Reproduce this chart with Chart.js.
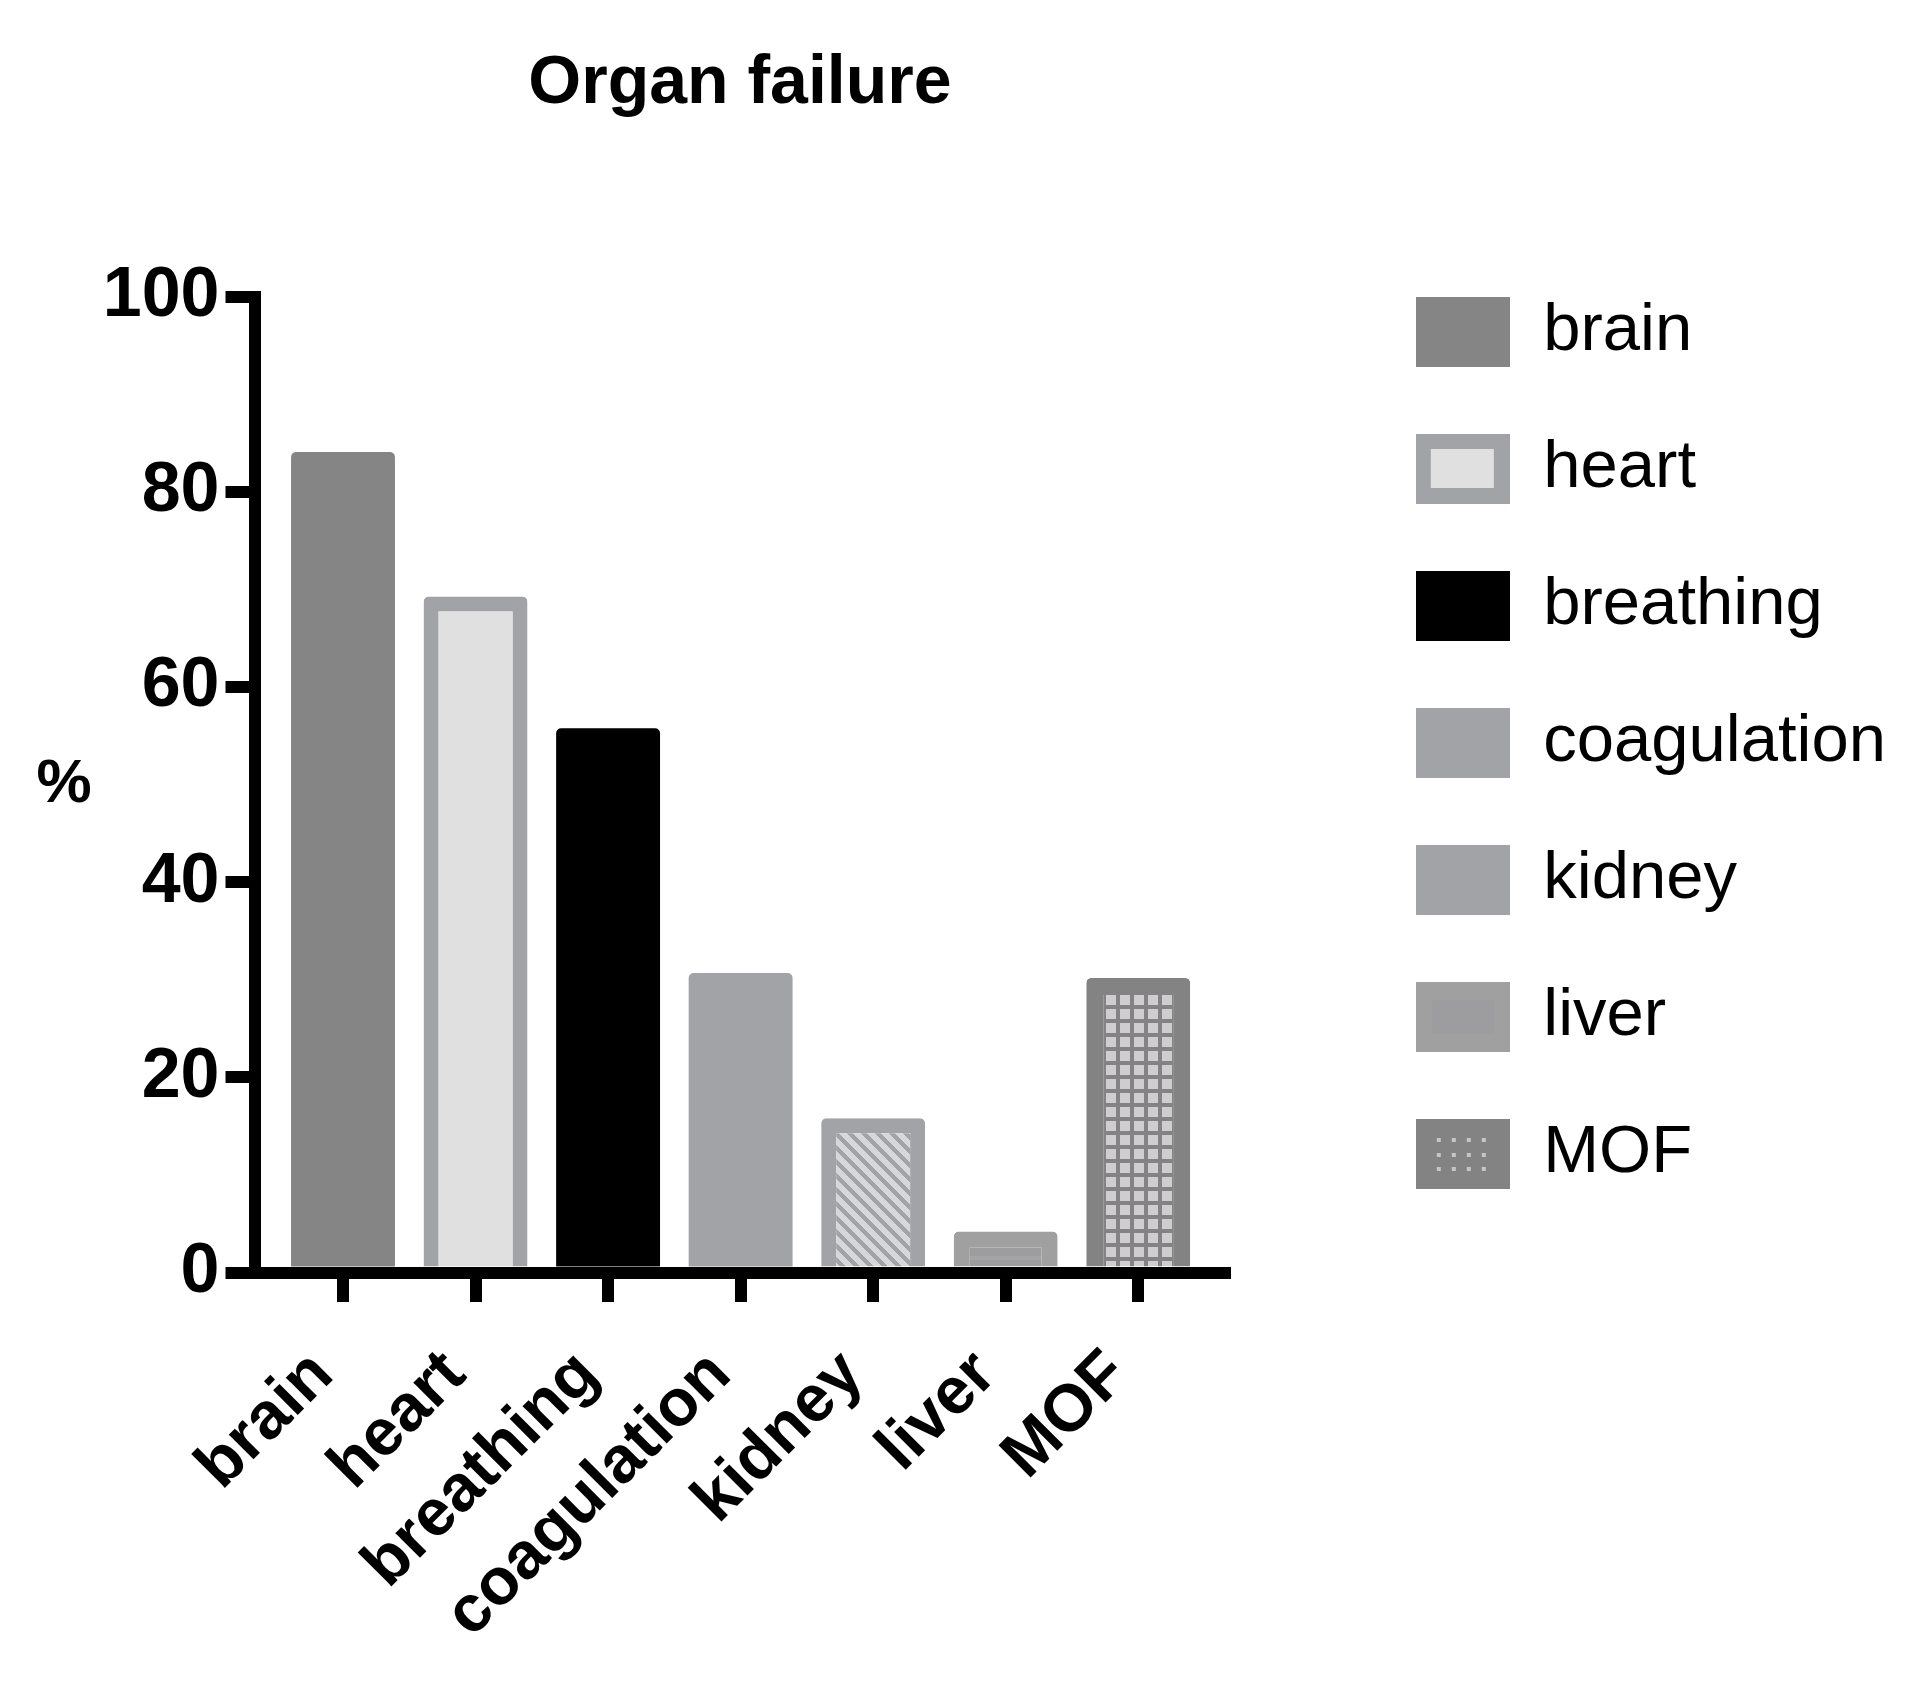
<!DOCTYPE html>
<html>
<head>
<meta charset="utf-8">
<title>Organ failure</title>
<script src="https://cdn.jsdelivr.net/npm/chart.js@4"></script>
<style>
  body { margin: 0; background: #fff; }
  canvas { display: block; }
</style>
</head>
<body>
<canvas id="myChart" width="1931" height="1681"></canvas>
<script>
// values
const categories = ['brain', 'heart', 'breathing', 'coagulation', 'kidney', 'liver', 'MOF'];
const percents = [84.1, 69.3, 55.8, 30.7, 15.8, 4.2, 30.2];
const yTicks = [0, 20, 40, 60, 80, 100];
const chartTitle = 'Organ failure';
const yTitle = '%';

Chart.defaults.font.family = '"Liberation Sans", Arial, sans-serif';
Chart.defaults.color = '#000';

const chartTarget = document.querySelector('#myChart');
const ctx = chartTarget.getContext('2d');

function tile(w, h, paint) {
    const c = document.createElement('canvas');
    c.width = w;
    c.height = h;
    paint(c.getContext('2d'));
    return c;
}

function pattern(w, h, paint) {
    return ctx.createPattern(tile(w, h, paint), 'repeat');
}

// fills
const hatch = pattern(14, 14, (g) => {
    g.fillStyle = '#a2a3a6';
    g.fillRect(0, 0, 14, 14);
    g.fillStyle = '#d6d7db';
    for (let y = 0; y < 14; y++) {
        for (let x = 0; x < 14; x++) {
            if (((x - y) % 14 + 14) % 14 < 8) g.fillRect(x, y, 1, 1);
        }
    }
});
const squares = pattern(14, 14, (g) => {
    g.fillStyle = '#838383';
    g.fillRect(0, 0, 14, 14);
    g.fillStyle = '#cfcdd0';
    g.fillRect(0, 1, 10, 10);
});
const bands = pattern(14, 14, (g) => {
    g.fillStyle = '#9d9c9e';
    g.fillRect(0, 0, 14, 14);
    g.fillStyle = '#a4a4a5';
    g.fillRect(0, 10, 14, 4);
});

const fills = ['#858585', '#e0e0e0', '#000000', '#a2a3a6', hatch, bands, squares];
const borders = ['#858585', '#a2a3a6', '#000000', '#a2a3a6', '#a2a3a6', '#a0a0a0', '#838383'];
const borderWidths = [0, 15, 0, 0, 15, 16, 17];

// legend swatches
const swatches = [
    tile(94, 70, (g) => { g.fillStyle = '#858585'; g.fillRect(0, 0, 94, 70); }),
    tile(94, 70, (g) => {
        g.fillStyle = '#a2a3a6'; g.fillRect(0, 0, 94, 70);
        g.fillStyle = '#e0e0e0'; g.fillRect(15, 15, 63, 39);
    }),
    tile(94, 70, (g) => { g.fillStyle = '#000000'; g.fillRect(0, 0, 94, 70); }),
    tile(94, 70, (g) => { g.fillStyle = '#a2a3a6'; g.fillRect(0, 0, 94, 70); }),
    tile(94, 70, (g) => { g.fillStyle = '#a2a3a6'; g.fillRect(0, 0, 94, 70); }),
    tile(94, 70, (g) => {
        g.fillStyle = '#a0a0a0'; g.fillRect(0, 0, 94, 70);
        g.fillStyle = '#9d9c9e'; g.fillRect(16, 18, 62, 34);
    }),
    tile(94, 70, (g) => {
        g.fillStyle = '#838383'; g.fillRect(0, 0, 94, 70);
        g.fillStyle = '#c6c5c8';
        [23, 38, 53, 68].forEach((x) => {
            [21, 36, 50].forEach((y) => g.fillRect(x - 2, y - 2, 4, 4));
        });
    })
];

// draws the unrotated "%" left of the y axis
const percentLabel = {
    id: 'percentLabel',
    afterDraw(chart) {
        const area = chart.chartArea;
        const c = chart.ctx;
        c.save();
        c.font = 'bold 62px "Liberation Sans"';
        c.fillStyle = '#000';
        c.textAlign = 'center';
        c.textBaseline = 'middle';
        c.fillText(yTitle, 64, (area.top + area.bottom) / 2);
        c.restore();
    }
};

const data = {
    datasets: [{
        label: yTitle,
        data: percents.map((v, i) => ({ x: i, y: v })),
        backgroundColor: fills,
        borderColor: borders,
        borderWidth: borderWidths,
        borderRadius: 5,
        borderSkipped: 'start',
        categoryPercentage: 1,
        barPercentage: 0.784,
        xAxisID: 'x',
        yAxisID: 'y'
    }]
};

const config = {
    type: 'bar',
    data: data,
    plugins: [percentLabel],
    options: {
        responsive: false,
        animation: false,
        layout: { padding: { top: 0, left: 0, right: 35, bottom: 0 } },
        plugins: {
            tooltip: { enabled: false },
            title: {
                display: true,
                text: chartTitle,
                fullSize: false,
                font: { size: 68, weight: 'bold' },
                color: '#000',
                padding: { top: 43.6, bottom: 171.8 }
            },
            legend: {
                position: 'right',
                align: 'start',
                maxWidth: 700,
                // empty title only pushes the items down
                title: { display: true, text: ' ', font: { size: 12 }, padding: { top: 214.1, bottom: 0 } },
                labels: {
                    usePointStyle: true,
                    pointStyleWidth: 94,
                    boxHeight: 70,
                    padding: 70,
                    color: '#000',
                    font: { size: 67 },
                    generateLabels: () => categories.map((text, i) => ({
                        text: text,
                        pointStyle: swatches[i],
                        fillStyle: '#000',
                        strokeStyle: 'transparent',
                        lineWidth: 0,
                        hidden: false,
                        index: i
                    }))
                }
            }
        },
        scales: {
            x: {
                type: 'linear',
                position: 'bottom',
                offset: false,
                min: -0.664,
                max: 6.653,
                afterBuildTicks: (s) => { s.ticks = categories.map((c, i) => ({ value: i })); },
                afterFit: (s) => { s.height = 408.5; },
                border: { display: true, width: 12, color: '#000' },
                grid: { display: true, offset: false, drawOnChartArea: false, drawTicks: true, tickLength: 29.5, lineWidth: 12, color: '#000' },
                ticks: {
                    autoSkip: false,
                    maxRotation: 45,
                    minRotation: 45,
                    padding: 34,
                    labelOffset: -20,
                    color: '#000',
                    font: { size: 66, weight: 'bold' },
                    callback: (v) => categories[v]
                }
            },
            y: {
                type: 'linear',
                position: 'left',
                min: yTicks[0],
                max: yTicks[yTicks.length - 1],
                afterBuildTicks: (s) => { s.ticks = yTicks.map((v) => ({ value: v })); },
                afterFit: (s) => { s.width = 255; },
                border: { display: true, width: 12, color: '#000' },
                grid: { display: true, drawOnChartArea: false, drawTicks: true, tickLength: 29.5, lineWidth: 12, color: '#000' },
                ticks: {
                    padding: 6,
                    color: '#000',
                    font: { size: 70, weight: 'bold' }
                }
            },
            // empty spacer between the plot and the legend
            yRight: {
                type: 'linear',
                position: 'right',
                display: true,
                grid: { display: false },
                border: { display: false },
                ticks: { display: false },
                afterFit: (s) => { s.width = 121; }
            }
        }
    }
};

const chart = new Chart(chartTarget, config);
</script>
</body>
</html>
